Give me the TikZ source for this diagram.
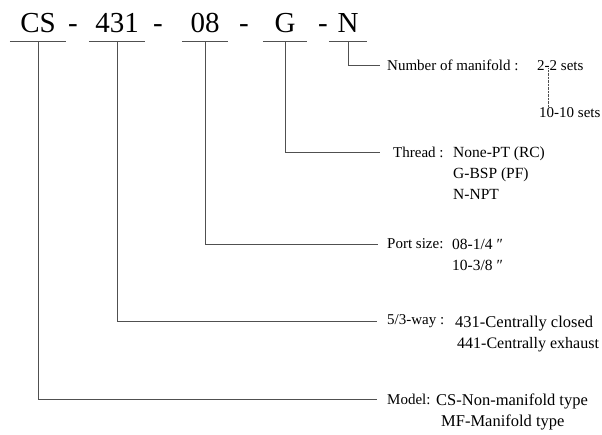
\documentclass[tikz,border=0pt]{standalone}
\usepackage{fontspec}
\setmainfont{Liberation Serif}
\definecolor{leadC}{RGB}{80,80,80}

\begin{document}
\begin{tikzpicture}[x=1pt,y=-1pt,
  code/.style={font=\fontsize{29}{30}\selectfont,anchor=base,inner xsep=0pt,inner ysep=0pt,text depth=9pt},
  keyt/.style={font=\fontsize{15}{17}\selectfont,anchor=west,inner sep=0pt},
  valt/.style={font=\fontsize{15.5}{17}\selectfont,anchor=base west,inner sep=0pt},
  bigval/.style={valt,font=\fontsize{16.5}{19}\selectfont},
  lead/.style={leadC,line width=0.9pt}]
\useasboundingbox (0,0) rectangle (602,434);
% code parts
\node[code,minimum width=56] (cs) at (38,32) {CS};
\node[code] (d1) at (73,32) {-};
\node[code,minimum width=56] (p431) at (117,32) {431};
\node[code] (d2) at (158,32) {-};
\node[code,minimum width=46] (p08) at (205,32) {08};
\node[code] (d3) at (244,32) {-};
\node[code,minimum width=44] (pg) at (285,32) {G};
\node[code] (d4) at (323,32) {-};
\node[code,minimum width=38] (pn) at (348,32) {N};
\foreach \p in {cs,p431,p08,pg,pn} \draw[lead] (\p.south west) -- (\p.south east);
% explanations
\node[keyt] (kn) at (380,65) {\hspace{7pt}Number of manifold :};
\node[valt,font=\fontsize{15}{17}\selectfont] (two) at (537,70) {2-2 sets};
\node[valt,font=\fontsize{15}{17}\selectfont] (ten) at (539,117) {10-10 sets};
\node[keyt] (kg) at (380,152) {\hspace{13pt}Thread :};
\node[valt] (thr1) at (453,157) {None-PT (RC)};
\node[valt] (thr2) at ([yshift=-21]thr1.base west) {G-BSP (PF)};
\node[valt] (thr3) at ([yshift=-21]thr2.base west) {N-NPT};
\node[keyt] (kp) at (378,244) {\hspace{9pt}Port size:};
\node[valt] (port1) at (452,249) {08-1/4 \char"2033};
\node[valt] (port2) at ([yshift=-21]port1.base west) {10-3/8 \char"2033};
\node[keyt] (kw) at (377,321) {\hspace{10pt}5/3-way :};
\node[bigval] (way1) at (455,327) {431-Centrally closed};
\node[bigval,font=\fontsize{16}{19}\selectfont] (way2) at ([xshift=2,yshift=-21]way1.base west) {441-Centrally exhaust};
\node[keyt] (km) at (377,399) {\hspace{10pt}Model:};
\node[bigval] (mod1) at (436,405) {CS-Non-manifold type};
\node[bigval] (mod2) at ([xshift=5,yshift=-21]mod1.base west) {MF-Manifold type};
% leaders
\draw[lead] (pn.south) |- (kn.west);
\draw[lead] (pg.south) |- (kg.west);
\draw[lead] (p08.south) |- (kp.west);
\draw[lead] (p431.south) |- (kw.west);
\draw[lead] (cs.south) |- (km.west);
\draw[leadC,densely dotted,thin] ([xshift=11,yshift=2]two.south west) -- ([xshift=11]two.south west |- ten.north);
\end{tikzpicture}
\end{document}
